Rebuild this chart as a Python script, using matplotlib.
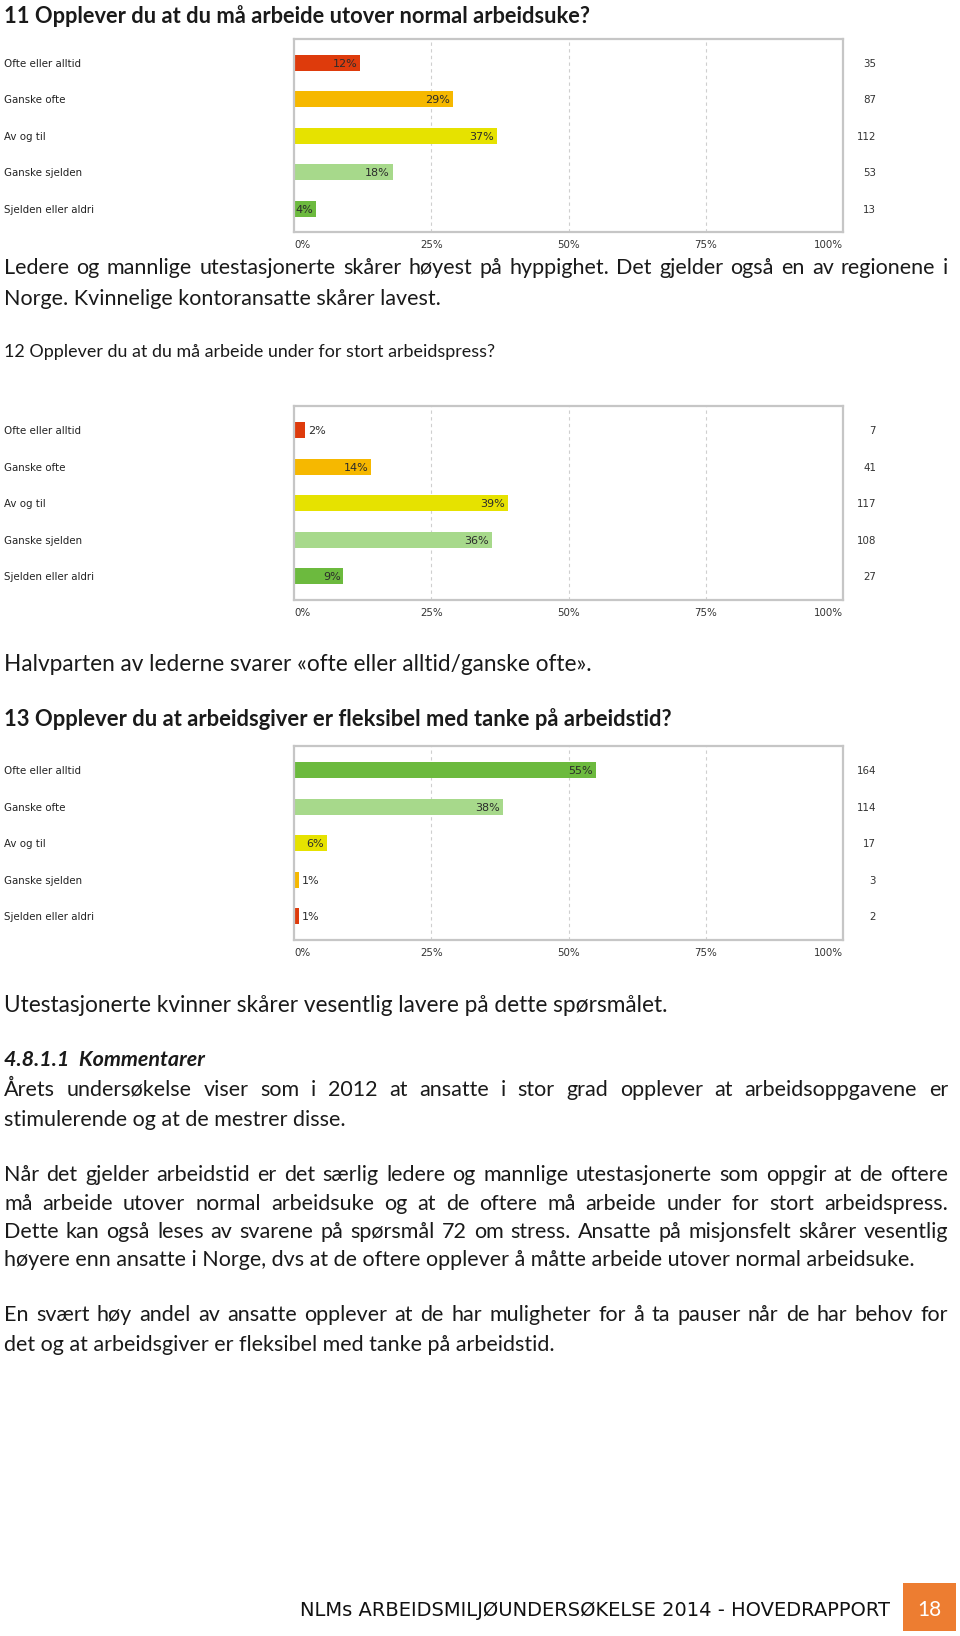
import matplotlib
matplotlib.use("Agg")
import matplotlib.pyplot as plt
import matplotlib.transforms as mtransforms
from matplotlib.patches import Rectangle

W, H = 960, 1636

categories = ["Ofte eller alltid", "Ganske ofte", "Av og til", "Ganske sjelden", "Sjelden eller aldri"]
q11_pct = [12, 29, 37, 18, 4]
q11_n = [35, 87, 112, 53, 13]
q12_pct = [2, 14, 39, 36, 9]
q12_n = [7, 41, 117, 108, 27]
q13_pct = [55, 38, 6, 1, 1]
q13_n = [164, 114, 17, 3, 2]
x_ticks = [0, 25, 50, 75, 100]
x_ticklabels = ["0%", "25%", "50%", "75%", "100%"]

RED, ORANGE, YELLOW, LGREEN, GREEN = "#DE3B0C", "#F6B800", "#E6E200", "#A7D98B", "#6CBA3E"
pal_neg = [RED, ORANGE, YELLOW, LGREEN, GREEN]
pal_pos = [GREEN, LGREEN, YELLOW, ORANGE, RED]

title_11 = "11 Opplever du at du må arbeide utover normal arbeidsuke?"
text_11 = ["Ledere og mannlige utestasjonerte skårer høyest på hyppighet. Det gjelder også en av regionene i",
           "Norge. Kvinnelige kontoransatte skårer lavest."]
title_12 = "12 Opplever du at du må arbeide under for stort arbeidspress?"
text_12 = "Halvparten av lederne svarer «ofte eller alltid/ganske ofte»."
title_13 = "13 Opplever du at arbeidsgiver er fleksibel med tanke på arbeidstid?"
text_13 = "Utestasjonerte kvinner skårer vesentlig lavere på dette spørsmålet."
heading = "4.8.1.1  Kommentarer"
para1 = ["Årets undersøkelse viser som i 2012 at ansatte i stor grad opplever at arbeidsoppgavene er",
         "stimulerende og at de mestrer disse."]
para2 = ["Når det gjelder arbeidstid er det særlig ledere og mannlige utestasjonerte som oppgir at de oftere",
         "må arbeide utover normal arbeidsuke og at de oftere må arbeide under for stort arbeidspress.",
         "Dette kan også leses av svarene på spørsmål 72 om stress. Ansatte på misjonsfelt skårer vesentlig",
         "høyere enn ansatte i Norge, dvs at de oftere opplever å måtte arbeide utover normal arbeidsuke."]
para3 = ["En svært høy andel av ansatte opplever at de har muligheter for å ta pauser når de har behov for",
         "det og at arbeidsgiver er fleksibel med tanke på arbeidstid."]
footer = "NLMs ARBEIDSMILJØUNDERSØKELSE 2014 - HOVEDRAPPORT"
page_no = "18"

fig = plt.figure(figsize=(W / 100, H / 100), dpi=100)
fig.patch.set_facecolor("white")
renderer = fig.canvas.get_renderer()

BODY = "Lato"
X0, X1 = 4, 948
TXT = "#1a1a1a"


def fy(y):
    return 1 - y / H


def fit_size(s, target, family=BODY, **kw):
    t = fig.text(0, 0, s, fontsize=12, family=family, **kw)
    w = t.get_window_extent(renderer).width
    t.remove()
    return 12 * target / w


def line(y, s, size, x=X0, family=BODY, **kw):
    fig.text(x / W, fy(y), s, fontsize=size, family=family, va="center_baseline",
             color=kw.pop("color", TXT), **kw)


def justify(y, s, size, **kw):
    words = s.split()
    ts = [fig.text(0, fy(y), w, fontsize=size, family=BODY, va="center_baseline", color=TXT, **kw)
          for w in words]
    widths = [t.get_window_extent(renderer).width for t in ts]
    gap = (X1 - X0 - sum(widths)) / (len(words) - 1)
    x = X0
    for t, w in zip(ts, widths):
        t.set_x(x / W)
        x += w + gap


body = fit_size(text_11[1], 434)


def chart(top, pct, n, colors):
    ax = fig.add_axes([294 / W, fy(top + 193.5), 549 / W, 193.5 / H])
    ys = range(len(categories))
    ax.barh(ys, pct, height=0.44, color=colors, edgecolor="none", zorder=2)
    ax.set_xlim(0, 100)
    ax.set_ylim(4.64, -0.66)
    ax.set_yticks([])
    for v in x_ticks[1:-1]:
        ax.axvline(v, color="#cfcfcf", lw=0.8, ls=(0, (3, 3)), zorder=1)
    for sp in ax.spines.values():
        sp.set_color("#c6c6c6")
        sp.set_linewidth(1.6)
    ax.set_xticks(x_ticks)
    ax.set_xticklabels(x_ticklabels, fontsize=7.4, color="#333333", family="DejaVu Sans")
    ax.tick_params(axis="x", length=0, pad=6)
    lbls = ax.get_xticklabels()
    lbls[0].set_ha("left")
    lbls[-1].set_ha("right")
    fig_y = mtransforms.blended_transform_factory(fig.transFigure, ax.transData)
    for i, (c, p, k) in enumerate(zip(categories, pct, n)):
        fig.text(4 / W, i, c, transform=fig_y, fontsize=7.4, family="DejaVu Sans",
                 color="#222222", va="center_baseline")
        fig.text(876 / W, i, str(k), transform=fig_y, fontsize=7.4, family="DejaVu Sans",
                 color="#333333", va="center_baseline", ha="right")
        if p >= 4:
            ax.annotate(f"{p}%", (p, i), xytext=(-2, 0), textcoords="offset points",
                        ha="right", va="center_baseline", fontsize=8, color="#2b2b2b",
                        family="DejaVu Sans", zorder=3)
        else:
            ax.annotate(f"{p}%", (p, i), xytext=(2, 0), textcoords="offset points",
                        ha="left", va="center_baseline", fontsize=8, color="#2b2b2b",
                        family="DejaVu Sans", zorder=3)
    return ax


# question 11
line(14, title_11, fit_size(title_11, 582, weight="bold"), weight="bold")
chart(38.6, q11_pct, q11_n, pal_neg)
justify(266, text_11[0], body)
line(297, text_11[1], body)

# question 12
line(350, title_12, fit_size(title_12, 489))
chart(406, q12_pct, q12_n, pal_neg)
line(662, text_12, fit_size(text_12, 584))

# question 13
line(717, title_13, fit_size(title_13, 661, weight="bold"), weight="bold")
chart(746, q13_pct, q13_n, pal_pos)
line(1004, text_13, fit_size(text_13, 662))

# comments
line(1058, heading, fit_size(heading, 200, weight="bold", style="italic"), weight="bold", style="italic")
justify(1088, para1[0], body)
line(1118, para1[1], body)
for y, s in zip([1173, 1202, 1230], para2[:3]):
    justify(y, s, body)
line(1258, para2[3], body)
justify(1313, para3[0], body)
line(1343, para3[1], body)

# footer
line(1608, footer, fit_size(footer, 590, family="DejaVu Sans"), x=300, family="DejaVu Sans", color="#111111")
fig.add_artist(Rectangle((903 / W, fy(1631)), 53 / W, 48 / H, transform=fig.transFigure,
                         facecolor="#ED7D31", edgecolor="none"))
fig.text(929.5 / W, fy(1608), page_no, fontsize=15, family=BODY, color="white",
         ha="center", va="center_baseline")

fig.savefig("out.png", dpi=100, facecolor="white")
